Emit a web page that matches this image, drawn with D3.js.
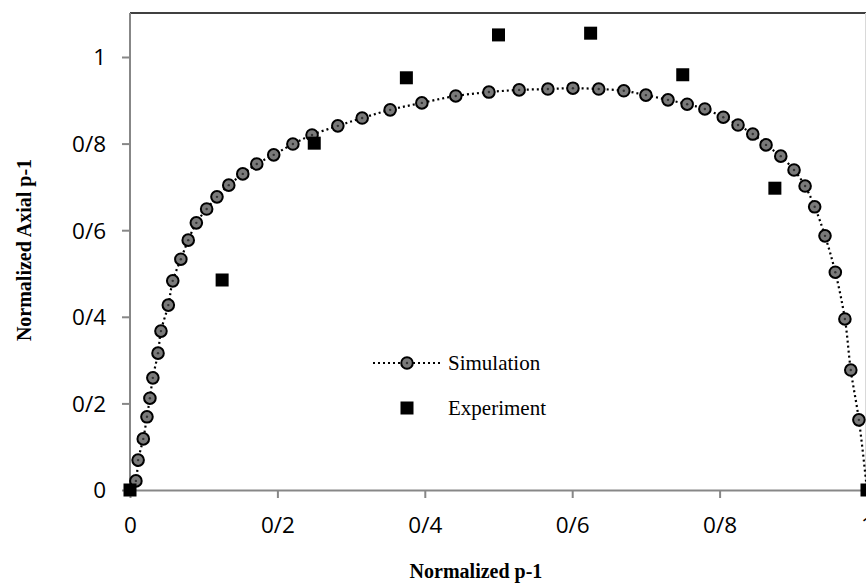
<!DOCTYPE html>
<html>
<head>
<meta charset="utf-8">
<script src="https://cdn.jsdelivr.net/npm/d3@7"></script>
<style>
  html, body { margin: 0; padding: 0; background: #fff; }
  svg { display: block; }
</style>
</head>
<body>
<svg id="chart" width="866" height="584"></svg>
<script>
// ---- Data ----
const simX = [0, 0.008, 0.011, 0.018, 0.023, 0.027, 0.031, 0.038, 0.042, 0.052, 0.058, 0.069, 0.079, 0.090, 0.104, 0.118, 0.134, 0.153, 0.172, 0.195, 0.221, 0.247, 0.282, 0.315, 0.353, 0.396, 0.442, 0.487, 0.528, 0.567, 0.601, 0.636, 0.670, 0.700, 0.730, 0.756, 0.780, 0.805, 0.825, 0.845, 0.863, 0.883, 0.901, 0.916, 0.929, 0.943, 0.957, 0.970, 0.978, 0.989, 1.0];
const simY = [0, 0.021, 0.069, 0.118, 0.169, 0.212, 0.259, 0.316, 0.367, 0.427, 0.483, 0.533, 0.577, 0.617, 0.649, 0.677, 0.704, 0.730, 0.753, 0.774, 0.799, 0.820, 0.841, 0.859, 0.878, 0.894, 0.910, 0.919, 0.924, 0.926, 0.928, 0.926, 0.922, 0.912, 0.901, 0.891, 0.880, 0.861, 0.843, 0.822, 0.797, 0.771, 0.739, 0.702, 0.654, 0.587, 0.503, 0.395, 0.277, 0.162, 0];
const expX = [0, 0.125, 0.25, 0.375, 0.5, 0.625, 0.75, 0.875, 1.0];
const expY = [0, 0.485, 0.801, 0.952, 1.051, 1.055, 0.959, 0.697, 0];
const xTicks = [0, 0.2, 0.4, 0.6, 0.8, 1];
const yTicks = [0, 0.2, 0.4, 0.6, 0.8, 1];
const seriesNames = ["Simulation", "Experiment"];
const xTitle = "Normalized p-1";
const yTitle = "Normalized Axial p-1";

// ---- Layout ----
const svg = d3.select("#chart");
const pLeft = 130, pRight = 867, pTop = 13.7, pBottom = 490;
const x = d3.scaleLinear().domain([0, 1]).range([pLeft, pRight]);
const y = d3.scaleLinear().domain([0, 1.1]).range([pBottom, pTop]);
const fmt = d => d === 0 ? "0" : d === 1 ? "1" : String(d).replace(".", "/");
const tickFont = "'Open Sans', Lato, sans-serif";
const serif = "'Liberation Serif', 'DejaVu Serif', serif";

// plot frame: top black, right light gray
svg.append("line").attr("x1", pLeft).attr("x2", 866).attr("y1", 13).attr("y2", 13)
  .attr("stroke", "#000").attr("stroke-width", 1.5);
svg.append("line").attr("x1", 865.5).attr("x2", 865.5).attr("y1", 13).attr("y2", pBottom)
  .attr("stroke", "#d9d9d9").attr("stroke-width", 1);

// axes
const xAxis = svg.append("g").attr("transform", `translate(0,${pBottom})`)
  .call(d3.axisBottom(x).tickValues(xTicks).tickFormat(fmt).tickSize(8).tickSizeOuter(0));
const yAxis = svg.append("g").attr("transform", `translate(${pLeft},0)`)
  .call(d3.axisLeft(y).tickValues(yTicks).tickFormat(fmt).tickSize(8).tickSizeOuter(0));
[xAxis, yAxis].forEach(g => {
  g.select(".domain").attr("stroke", "#878787").attr("stroke-width", 2);
  g.selectAll(".tick line").attr("stroke", "#878787").attr("stroke-width", 2);
  g.selectAll(".tick text").attr("fill", "#000").style("font-family", tickFont).style("font-size", "22.5px");
});
yAxis.select(".domain").attr("d", `M0,${pBottom}V13`);
xAxis.selectAll(".tick text").attr("dy", "0").attr("y", 43);
yAxis.selectAll(".tick text").attr("x", -24).attr("dy", "0.35em");

// simulation line (smoothed, dotted)
const simData = simX.map((v, i) => [v, simY[i]]);
const line = d3.line().x(d => x(d[0])).y(d => y(d[1])).curve(d3.curveCatmullRom.alpha(0.5));
svg.append("path").datum(simData).attr("d", line)
  .attr("fill", "none").attr("stroke", "#000").attr("stroke-width", 2.2)
  .attr("stroke-dasharray", "2,3");

function simMarker(g, cx, cy) {
  g.append("circle").attr("cx", cx).attr("cy", cy).attr("r", 5.8)
    .attr("fill", "#7a7a7a").attr("stroke", "#000").attr("stroke-width", 2);
  g.append("circle").attr("cx", cx).attr("cy", cy).attr("r", 1.2).attr("fill", "#333");
}
const simG = svg.append("g");
simData.slice(1, -1).forEach(d => simMarker(simG, x(d[0]), y(d[1])));

// experiment squares
const sq = 13;
svg.append("g").selectAll("rect").data(expX.map((v, i) => [v, expY[i]])).join("rect")
  .attr("x", d => x(d[0]) - sq / 2).attr("y", d => y(d[1]) - sq / 2)
  .attr("width", sq).attr("height", sq).attr("fill", "#000");

// legend
const lg = svg.append("g");
lg.append("line").attr("x1", 373).attr("x2", 440).attr("y1", 363).attr("y2", 363)
  .attr("stroke", "#000").attr("stroke-width", 2.2).attr("stroke-dasharray", "2,3");
simMarker(lg, 407, 363);
lg.append("rect").attr("x", 407 - sq / 2).attr("y", 408 - sq / 2).attr("width", sq).attr("height", sq).attr("fill", "#000");
lg.selectAll("text").data(seriesNames).join("text")
  .attr("x", 448).attr("y", (d, i) => 363 + i * 45).attr("dy", "0.35em")
  .style("font-family", serif).style("font-size", "21px").text(d => d);

// axis titles
svg.append("text").attr("x", 476).attr("y", 578).attr("text-anchor", "middle")
  .style("font-family", serif).style("font-size", "20px").style("font-weight", "bold").text(xTitle);
svg.append("text").attr("transform", "translate(31,250) rotate(-90)").attr("text-anchor", "middle")
  .style("font-family", serif).style("font-size", "20px").style("font-weight", "bold").text(yTitle);
</script>
</body>
</html>
